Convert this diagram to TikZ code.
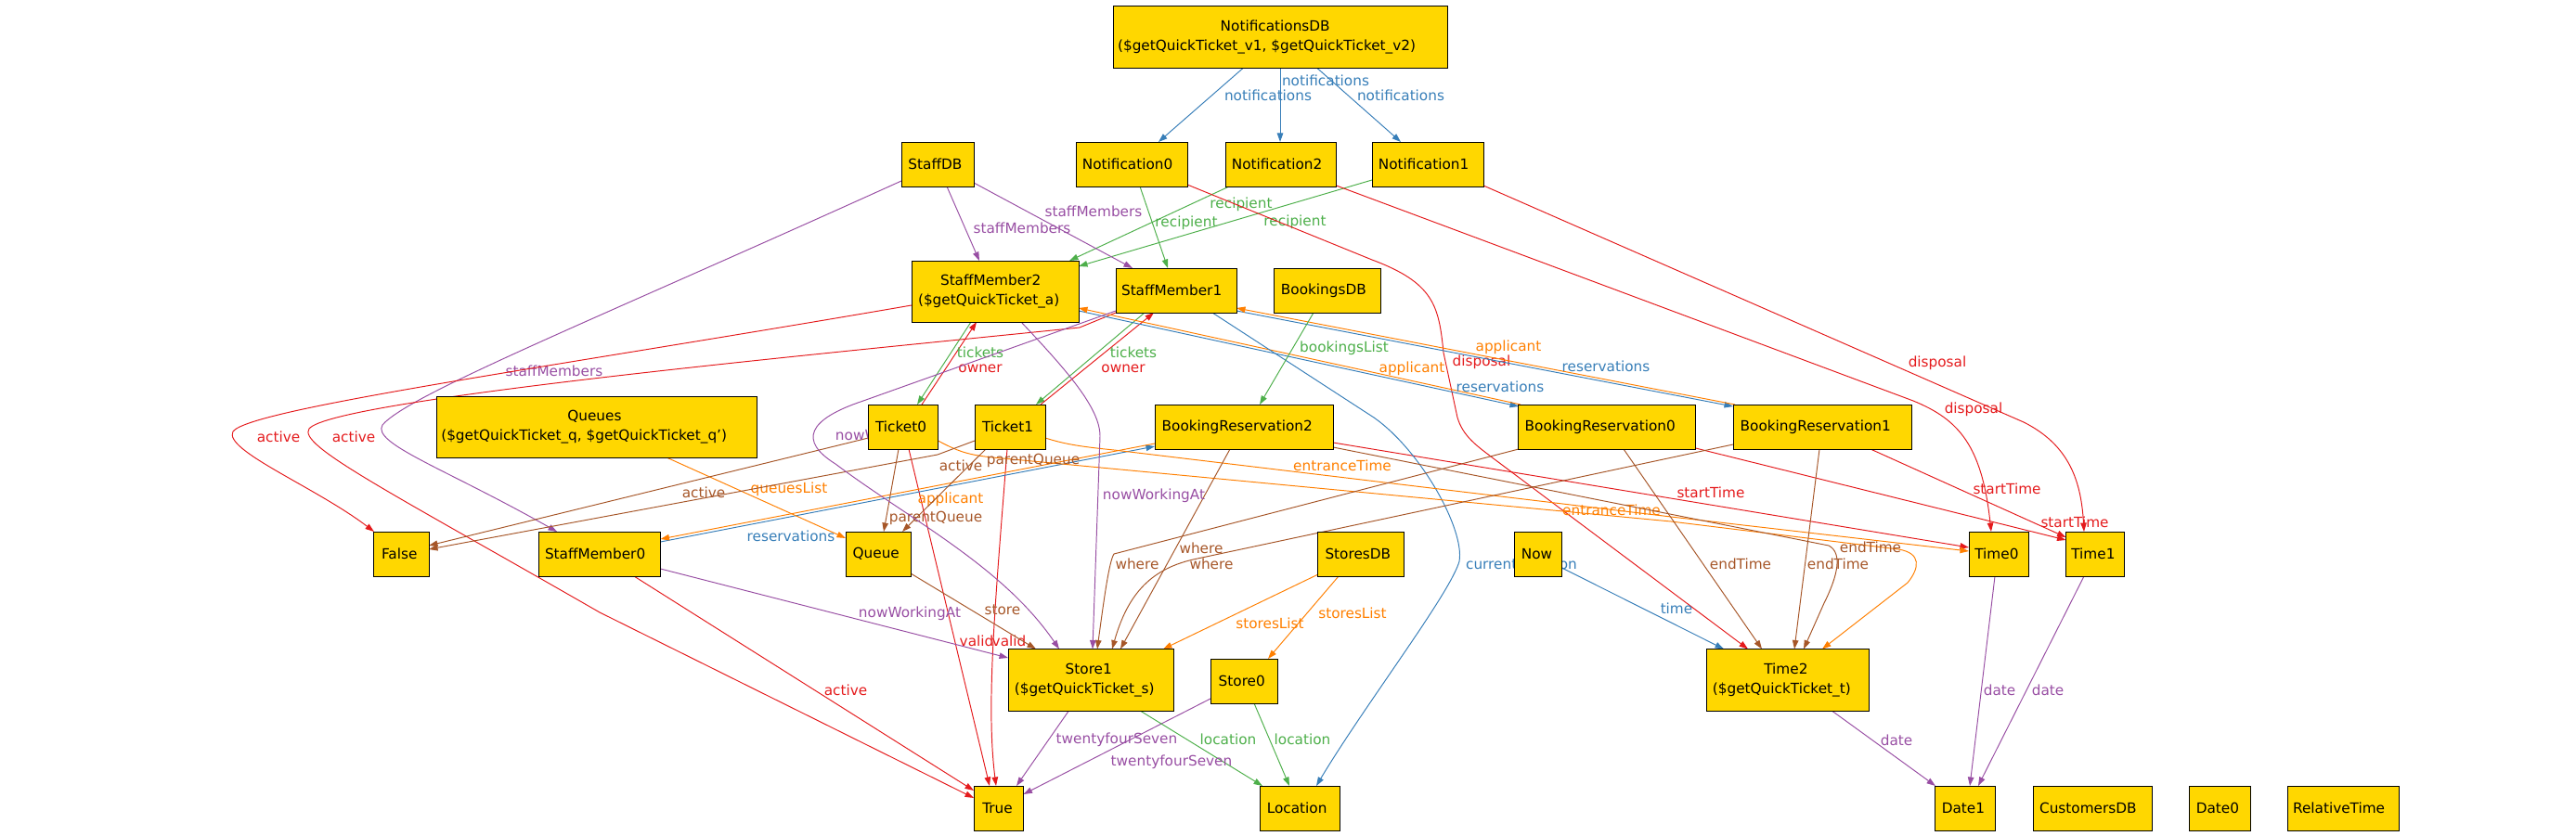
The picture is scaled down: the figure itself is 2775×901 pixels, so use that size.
\documentclass[tikz,border=0pt]{standalone}
\usepackage{fontspec}
\setmainfont{DejaVu Sans}
\usetikzlibrary{arrows.meta,calc}
\definecolor{nodefill}{RGB}{255,215,0}
\definecolor{relblue}{RGB}{55,126,184}
\definecolor{relred}{RGB}{228,26,28}
\definecolor{relgreen}{RGB}{77,175,74}
\definecolor{relpurple}{RGB}{152,78,163}
\definecolor{relorange}{RGB}{255,127,0}
\definecolor{relbrown}{RGB}{166,86,40}
\newcommand{\objfont}{\fontsize{8.7}{11.9}\selectfont}
\newcommand{\objtxt}[1]{\setbox0\hbox{#1}\hbox{\copy0\kern0.09\wd0}}
\tikzset{
  objbox/.style={draw=black, fill=nodefill, line width=0.55pt, inner sep=0pt, align=center, minimum height=0.96cm, font=\objfont},
  relln/.style={-{Triangle[length=1.9mm,width=1.3mm]}, line width=0.55pt},
  rellbl/.style={inner sep=0pt, font=\objfont},
}
\pgfdeclarelayer{edges}
\pgfsetlayers{edges,main}

\begin{document}
\begin{tikzpicture}[x=0.02cm, y=-0.02cm]
  \useasboundingbox (0,0) rectangle (2775,901);
  % objects
  \node[objbox, minimum width=7.2cm, minimum height=1.34cm] (ndb) at (1379,40) {\objtxt{NotificationsDB}\\\objtxt{(\$getQuickTicket\_v1, \$getQuickTicket\_v2)}};
  \node[objbox, minimum width=2.4cm] (n0) at (1219,177) {\objtxt{Notification0}};
  \node[objbox, minimum width=2.38cm] (n2) at (1380,177) {\objtxt{Notification2}};
  \node[objbox, minimum width=2.4cm] (n1) at (1538,177) {\objtxt{Notification1}};
  \node[objbox, minimum width=1.56cm] (sdb) at (1010,177) {\objtxt{StaffDB}};
  \node[objbox, minimum width=3.6cm, minimum height=1.32cm] (sm2) at (1072,314) {\objtxt{StaffMember2}\\\objtxt{(\$getQuickTicket\_a)}};
  \node[objbox, minimum width=2.6cm] (sm1) at (1267,313) {\objtxt{StaffMember1}};
  \node[objbox, minimum width=2.3cm] (bdb) at (1430,313) {\objtxt{BookingsDB}};
  \node[objbox, minimum width=6.92cm, minimum height=1.32cm] (qs) at (643,460) {\objtxt{Queues}\\\objtxt{(\$getQuickTicket\_q, \$getQuickTicket\_q')}};
  \node[objbox, minimum width=1.5cm] (t0) at (973,460) {\objtxt{Ticket0}};
  \node[objbox, minimum width=1.52cm] (t1) at (1088,460) {\objtxt{Ticket1}};
  \node[objbox, minimum width=3.84cm] (br2) at (1340,460) {\objtxt{BookingReservation2}};
  \node[objbox, minimum width=3.82cm] (br0) at (1731,460) {\objtxt{BookingReservation0}};
  \node[objbox, minimum width=3.84cm] (br1) at (1963,460) {\objtxt{BookingReservation1}};
  \node[objbox, minimum width=1.2cm] (fls) at (432,597) {\objtxt{False}};
  \node[objbox, minimum width=2.62cm] (sm0) at (646,597) {\objtxt{StaffMember0}};
  \node[objbox, minimum width=1.4cm] (q) at (946,597) {\objtxt{Queue}};
  \node[objbox, minimum width=1.86cm] (stdb) at (1466,597) {\objtxt{StoresDB}};
  \node[objbox, minimum width=1.02cm] (now) at (1657,597) {\objtxt{Now}};
  \node[objbox, minimum width=1.28cm] (tm0) at (2153,597) {\objtxt{Time0}};
  \node[objbox, minimum width=1.26cm] (tm1) at (2257,597) {\objtxt{Time1}};
  \node[objbox, minimum width=3.56cm, minimum height=1.34cm] (st1) at (1175,733) {\objtxt{Store1}\\\objtxt{(\$getQuickTicket\_s)}};
  \node[objbox, minimum width=1.44cm] (st0) at (1340,734) {\objtxt{Store0}};
  \node[objbox, minimum width=3.5cm, minimum height=1.34cm] (tm2) at (1926,733) {\objtxt{Time2}\\\objtxt{(\$getQuickTicket\_t)}};
  \node[objbox, minimum width=1.06cm] (tru) at (1076,871) {\objtxt{True}};
  \node[objbox, minimum width=1.72cm] (loc) at (1400,871) {\objtxt{Location}};
  \node[objbox, minimum width=1.3cm] (d1) at (2117,871) {\objtxt{Date1}};
  \node[objbox, minimum width=2.56cm] (cdb) at (2254,871) {\objtxt{CustomersDB}};
  \node[objbox, minimum width=1.32cm] (d0) at (2391,871) {\objtxt{Date0}};
  \node[objbox, minimum width=2.4cm] (rt) at (2524,871) {\objtxt{RelativeTime}};

  \begin{pgfonlayer}{edges}
  % notifications
  \draw[relln, relblue] ($(ndb)+(-40,33.5)$) -- ($(n0)+(29,-24)$);
  \draw[relln, relblue] ($(ndb)+(0,33.5)$) -- ($(n2)+(-1,-24)$);
  \draw[relln, relblue] ($(ndb)+(40,33.5)$) -- ($(n1)+(-29,-24)$);
  \node[rellbl, relblue] (lnot0) at (1366,103) {notifications};
  \node[rellbl, relblue] (lnot2) at (1428,87) {notifications};
  \node[rellbl, relblue] (lnot1) at (1509,103) {notifications};
  % recipient
  \draw[relln, relgreen] ($(n0)+(9,24)$) -- ($(sm1)+(-9,-24)$);
  \draw[relln, relgreen] ($(n2)+(-56,24)$) -- ($(sm2)+(80,-33)$);
  \draw[relln, relgreen] ($(n1)+(-60,17)$) -- ($(sm2)+(90,-27)$);
  \node[rellbl, relgreen] (lrec0) at (1278,240) {recipient};
  \node[rellbl, relgreen] (lrec2) at (1337,220) {recipient};
  \node[rellbl, relgreen] (lrec1) at (1395,239) {recipient};
  % staffMembers
  \draw[relln, relpurple] ($(sdb)+(10,24)$) -- ($(sm2)+(-17,-33)$);
  \draw[relln, relpurple] ($(sdb)+(39,20)$) -- ($(sm1)+(-47,-24)$);
  \draw[relln, relpurple] ($(sdb)+(-39,18)$) .. controls (640,345) and (440,425) .. (412,458) .. controls (400,478) and (480,505) .. ($(sm0)+(-46,-24)$);
  \node[rellbl, relpurple] (lsm2) at (1101,246) {staffMembers};
  \node[rellbl, relpurple] (lsm1) at (1178,228) {staffMembers};
  \node[rellbl, relpurple] (lsm0) at (597,400) {staffMembers};
  % tickets, owner
  \draw[relln, relgreen] ($(sm2)+(-26,33)$) -- ($(t0)+(15,-24)$);
  \draw[relln, relred] ($(t0)+(20,-24)$) -- ($(sm2)+(-20,33)$);
  \draw[relln, relgreen] ($(sm1)+(-34,24)$) -- ($(t1)+(28,-24)$);
  \draw[relln, relred] ($(t1)+(33,-24)$) -- ($(sm1)+(-24,24)$);
  \node[rellbl, relgreen] (ltk2) at (1056,380) {tickets};
  \node[rellbl, relred] (low0) at (1056,397) {owner};
  \node[rellbl, relgreen] (ltk1) at (1221,380) {tickets};
  \node[rellbl, relred] (low1) at (1210,397) {owner};
  % active (staff)
  \draw[relln, relred] ($(sm2)+(-90,15)$) .. controls (600,395) and (270,440) .. (251,465) .. controls (240,485) and (340,525) .. ($(fls)+(-29,-24)$);
  \draw[relln, relred] ($(sm1)+(-65,24)$) -- (1163,353) .. controls (900,380) and (360,430) .. (333,462) .. controls (320,480) and (420,530) .. (646,660) -- ($(tru)+(-27,-11)$);
  \draw[relln, relred] ($(sm0)+(37,24)$) -- ($(tru)+(-27,-19)$);
  \node[rellbl, relred] (lact2) at (300,471) {active};
  \node[rellbl, relred] (lact1) at (381,471) {active};
  \node[rellbl, relred] (lact0) at (911,744) {active};
  % valid
  \draw[relln, relred] ($(t0)+(6,24)$) -- ($(tru)+(-10,-24)$);
  \draw[relln, relred] ($(t1)+(-3,24)$) .. controls (1072,650) and (1062,760) .. ($(tru)+(-3,-24)$);
  \node[rellbl, relred] (lval0) at (1052,691) {valid};
  \node[rellbl, relred] (lval1) at (1087,691) {valid};
  % disposal
  \draw[relln, relred] ($(n0)+(60,22)$) -- (1478,280) .. controls (1545,305) and (1550,330) .. (1555,380) -- (1570,450) .. controls (1576,470) and (1590,480) .. (1610,495) -- ($(tm2)+(-43,-33.5)$);
  \draw[relln, relred] ($(n2)+(59.5,23)$) -- (2061,432) .. controls (2110,452) and (2135,480) .. ($(tm0)+(-8,-24)$);
  \draw[relln, relred] ($(n1)+(60,23)$) -- (2180,455) .. controls (2230,480) and (2242,520) .. ($(tm1)+(-12,-24)$);
  \node[rellbl, relred] (ldis0) at (1596,390) {disposal};
  \node[rellbl, relred] (ldis2) at (2126,441) {disposal};
  \node[rellbl, relred] (ldis1) at (2087,391) {disposal};
  % startTime
  \draw[relln, relred] ($(br2)+(96,17)$) -- ($(tm0)+(-32,-7)$);
  \draw[relln, relred] ($(br0)+(95.5,23)$) -- ($(tm1)+(-31.5,-15)$);
  \draw[relln, relred] ($(br1)+(52,24)$) -- ($(tm1)+(-31.5,-18)$);
  \node[rellbl, relred] (lst2) at (1843,531) {startTime};
  \node[rellbl, relred] (lst0) at (2235,563) {startTime};
  \node[rellbl, relred] (lst1) at (2162,527) {startTime};
  % reservations, applicant
  \draw[relln, relblue] ($(sm2)+(90,21)$) -- ($(br0)+(-95,-22)$);
  \draw[relln, relorange] ($(br0)+(-93,-24)$) -- ($(sm2)+(90,18)$);
  \draw[relln, relblue] ($(sm1)+(65,22)$) -- ($(br1)+(-96,-22)$);
  \draw[relln, relorange] ($(br1)+(-94,-24)$) -- ($(sm1)+(65,19)$);
  \draw[relln, relblue] ($(sm0)+(65.5,-13)$) -- ($(br2)+(-96,21)$);
  \draw[relln, relorange] ($(br2)+(-96,18)$) -- ($(sm0)+(65.5,-16)$);
  \node[rellbl, relorange] (lapp0) at (1521,397) {applicant};
  \node[rellbl, relblue] (lres2) at (1616,417) {reservations};
  \node[rellbl, relorange] (lapp1) at (1625,374) {applicant};
  \node[rellbl, relblue] (lres1) at (1730,395) {reservations};
  \node[rellbl, relorange] (lapp2) at (1024,538) {applicant};
  \node[rellbl, relblue] (lres0) at (852,578) {reservations};
  % currentLocation, time
  \draw[relln, relblue] ($(sm1)+(39,24)$) -- (1480,450) .. controls (1530,485) and (1578,570) .. (1572,605) .. controls (1562,640) and (1470,760) .. ($(loc)+(18,-24)$);
  \draw[relln, relblue] ($(now)+(25.5,15)$) -- ($(tm2)+(-69,-33.5)$);
  \node[rellbl, relblue] (lcur) at (1639,608) {currentLocation};
  \node[rellbl, relblue] (ltime) at (1806,656) {time};
  % bookingsList, queuesList, storesList
  \draw[relln, relgreen] ($(bdb)+(-15,24)$) -- ($(br2)+(17,-24)$);
  \draw[relln, relorange] ($(qs)+(75,33)$) -- ($(q)+(-35,-17)$);
  \draw[relln, relorange] ($(stdb)+(-46,22)$) -- ($(st1)+(78,-33.5)$);
  \draw[relln, relorange] ($(stdb)+(-24,24)$) -- ($(st0)+(26,-24)$);
  \node[rellbl, relgreen] (lbook) at (1448,375) {bookingsList};
  \node[rellbl, relorange] (lque) at (850,527) {queuesList};
  \node[rellbl, relorange] (lsto1) at (1368,672) {storesList};
  \node[rellbl, relorange] (lsto0) at (1457,661) {storesList};
  % entranceTime
  \draw[relln, relorange] ($(t0)+(37.5,15)$) .. controls (1035,488) and (1045,491) .. (1080,494) -- (1800,562) -- (2045,592) .. controls (2070,596) and (2068,612) .. (2055,628) -- ($(tm2)+(37,-33.5)$);
  \draw[relln, relorange] ($(t1)+(38,12)$) .. controls (1145,478) and (1160,481) .. (1200,485) -- (1800,557) -- ($(tm0)+(-32,-3)$);
  \node[rellbl, relorange] (lent0) at (1736,550) {entranceTime};
  \node[rellbl, relorange] (lent1) at (1446,502) {entranceTime};
  % endTime
  \draw[relln, relbrown] ($(br0)+(18,24)$) -- ($(tm2)+(-28,-33.5)$);
  \draw[relln, relbrown] ($(br1)+(-3,24)$) -- ($(tm2)+(7,-33.5)$);
  \draw[relln, relbrown] ($(br2)+(96,22)$) -- (1970,588) .. controls (1985,596) and (1980,620) .. (1965,650) -- ($(tm2)+(17,-33.5)$);
  \node[rellbl, relbrown] (lend0) at (1875,608) {endTime};
  \node[rellbl, relbrown] (lend1) at (1980,608) {endTime};
  \node[rellbl, relbrown] (lend2) at (2015,590) {endTime};
  % where
  \draw[relln, relbrown] ($(br0)+(-95,24)$) -- (1200,597) .. controls (1195,605) and (1190,640) .. ($(st1)+(7,-33.5)$);
  \draw[relln, relbrown] ($(br1)+(-96,19)$) -- (1290,602) .. controls (1240,612) and (1215,640) .. ($(st1)+(23,-33.5)$);
  \draw[relln, relbrown] ($(br2)+(-15,24)$) -- ($(st1)+(32,-33.5)$);
  \node[rellbl, relbrown] (lwh0) at (1225,608) {where};
  \node[rellbl, relbrown] (lwh1) at (1305,608) {where};
  \node[rellbl, relbrown] (lwh2) at (1294,591) {where};
  % active (tickets), parentQueue, store
  \draw[relln, relbrown] ($(t0)+(-37.5,12)$) -- ($(fls)+(30,-9)$);
  \draw[relln, relbrown] ($(t1)+(-38,15)$) -- (1010,490) -- ($(fls)+(30,-5)$);
  \draw[relln, relbrown] ($(t0)+(-5,24)$) -- ($(q)+(6,-24)$);
  \draw[relln, relbrown] ($(t1)+(-26,24)$) -- ($(q)+(26,-24)$);
  \draw[relln, relbrown] ($(q)+(35,21)$) -- ($(st1)+(-59,-33.5)$);
  \node[rellbl, relbrown] (lta0) at (758,531) {active};
  \node[rellbl, relbrown] (lta1) at (1035,502) {active};
  \node[rellbl, relbrown] (lpq0) at (1008,558) {parentQueue};
  \node[rellbl, relbrown] (lpq1) at (1113,496) {parentQueue};
  \node[rellbl, relbrown] (lstore) at (1080,657) {store};
  % nowWorkingAt
  \draw[relln, relpurple] ($(sm0)+(65.5,16)$) -- ($(st1)+(-89,-24)$);
  \draw[relln, relpurple] ($(sm1)+(-65,22)$) -- (930,432) .. controls (870,452) and (860,475) .. (900,500) .. controls (980,560) and (1080,610) .. ($(st1)+(-34,-33.5)$);
  \draw[relln, relpurple] ($(sm2)+(28,33)$) .. controls (1150,400) and (1185,440) .. (1185,470) -- ($(st1)+(2,-33.5)$);
  \node[rellbl, relpurple] (lnw0) at (980,661) {nowWorkingAt};
  \node[rellbl, relpurple] (lnw1) at (955,470) {nowWorkingAt};
  \node[rellbl, relpurple] (lnw2) at (1243,534) {nowWorkingAt};
  % twentyfourSeven, location
  \draw[relln, relpurple] ($(st1)+(-24,33.5)$) -- ($(tru)+(19,-24)$);
  \draw[relln, relpurple] ($(st0)+(-36,19)$) -- ($(tru)+(26.5,-15)$);
  \draw[relln, relgreen] ($(st1)+(54,33.5)$) -- ($(loc)+(-40,-24)$);
  \draw[relln, relgreen] ($(st0)+(11,24)$) -- ($(loc)+(-11,-24)$);
  \node[rellbl, relpurple] (ltw1) at (1203,797) {twentyfourSeven};
  \node[rellbl, relpurple] (ltw0) at (1262,821) {twentyfourSeven};
  \node[rellbl, relgreen] (lloc1) at (1323,797) {location};
  \node[rellbl, relgreen] (lloc0) at (1403,797) {location};
  % date
  \draw[relln, relpurple] ($(tm0)+(-4,24)$) -- ($(d1)+(5,-24)$);
  \draw[relln, relpurple] ($(tm1)+(-12,24)$) -- ($(d1)+(14,-24)$);
  \draw[relln, relpurple] ($(tm2)+(48,33.5)$) -- ($(d1)+(-32,-24)$);
  \node[rellbl, relpurple] (ldt0) at (2154,744) {date};
  \node[rellbl, relpurple] (ldt1) at (2206,744) {date};
  \node[rellbl, relpurple] (ldt2) at (2043,798) {date};
  \end{pgfonlayer}
\end{tikzpicture}
\end{document}
